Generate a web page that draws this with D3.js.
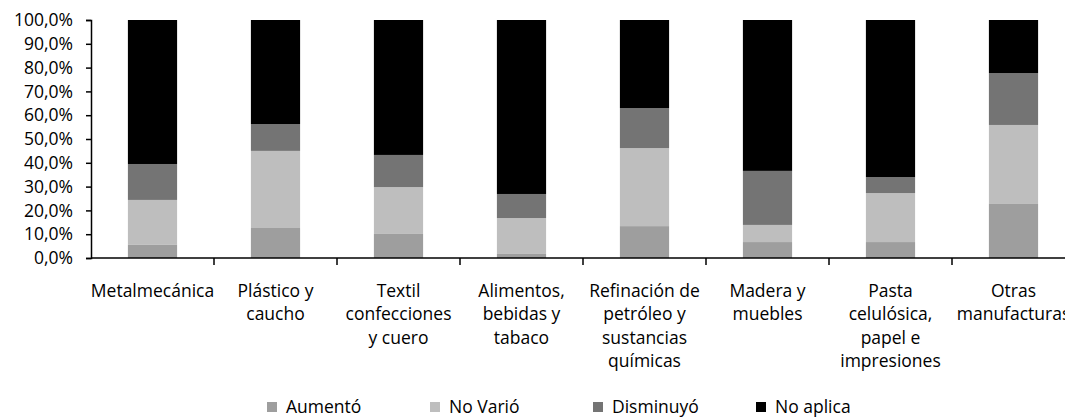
<!DOCTYPE html>
<html>
<head>
<meta charset="utf-8">
<script src="https://cdn.jsdelivr.net/npm/d3@7"></script>
<style>
  body { margin: 0; background: #fff; }
  svg { display: block; font-family: 'Open Sans', sans-serif; }
  .tick-label, .cat-label, .legend-label { fill: #000; font-size: 17.5px; }
</style>
</head>
<body>
<div id="chart"></div>
<script>
// categories (\n marks the line breaks of the axis labels)
const categories = [
  'Metalmecánica',
  'Plástico y\ncaucho',
  'Textil\nconfecciones\ny cuero',
  'Alimentos,\nbebidas y\ntabaco',
  'Refinación de\npetróleo y\nsustancias\nquímicas',
  'Madera y\nmuebles',
  'Pasta\ncelulósica,\npapel e\nimpresiones',
  'Otras\nmanufacturas'
]

const seriesNames = ['Aumentó', 'No Varió', 'Disminuyó', 'No aplica']
const seriesColors = ['#9e9e9e', '#bebebe', '#747474', '#000000']

// shares in %
const aumento = [5.5, 12.6, 10.1, 1.7, 13.4, 6.7, 6.7, 22.7]
const noVario = [18.9, 32.4, 19.7, 15.1, 32.8, 7.2, 20.6, 33.2]
const disminuyo = [15.1, 11.3, 13.5, 10.1, 16.8, 22.7, 6.7, 21.8]
const noAplica = [60.5, 43.7, 56.7, 73.1, 37.0, 63.4, 66.0, 22.3]

const yTicks = [0, 10, 20, 30, 40, 50, 60, 70, 80, 90, 100]

const rows = categories.map((c, i) => ({
  cat: c,
  'Aumentó': aumento[i],
  'No Varió': noVario[i],
  'Disminuyó': disminuyo[i],
  'No aplica': noAplica[i]
}))

// dimension stuff
const width = 1065
const height = 417
const marginLeft = 91
const marginTop = 20
const plotH = 238
const step = 123

const locale = d3.formatLocale({ decimal: ',', thousands: '.', grouping: [3], currency: ['', '€'] })
const fmt = locale.format('.1f')

const $svg = d3.select('#chart').append('svg')
  .attr('width', width)
  .attr('height', height)

const scaleX = d3.scaleBand()
  .domain(categories)
  .range([marginLeft, marginLeft + step * categories.length])
  .padding(0)

const scaleY = d3.scaleLinear()
  .domain([0, 100])
  .range([marginTop + plotH, marginTop])

const scaleC = d3.scaleOrdinal().domain(seriesNames).range(seriesColors)

const stacked = d3.stack().keys(seriesNames)(rows)
const barW = scaleX.bandwidth() * 0.4

// bars
const $vis = $svg.append('g').attr('class', 'g-vis')
$vis.selectAll('.layer')
  .data(stacked)
  .join('g')
  .attr('class', 'layer')
  .attr('fill', d => scaleC(d.key))
  .selectAll('rect')
  .data(d => d)
  .join('rect')
  .attr('x', d => scaleX(d.data.cat) + (scaleX.bandwidth() - barW) / 2)
  .attr('width', barW)
  .attr('y', d => scaleY(d[1]))
  .attr('height', d => scaleY(d[0]) - scaleY(d[1]))

// y axis
const $yAxis = $svg.append('g')
  .attr('transform', `translate(${marginLeft},0)`)
  .call(d3.axisLeft(scaleY).tickValues(yTicks).tickSize(5).tickPadding(13).tickFormat(d => fmt(d) + '%'))
$yAxis.select('.domain').attr('stroke', '#000').attr('stroke-width', 1.5)
$yAxis.selectAll('.tick line').attr('stroke', '#000').attr('stroke-width', 1.5)
$yAxis.selectAll('.tick text')
  .attr('class', 'tick-label')
$yAxis.attr('font-size', null).attr('font-family', null)

// x axis with ticks on category boundaries
const $xAxis = $svg.append('g')
  .attr('transform', `translate(0,${marginTop + plotH})`)
$xAxis.append('line')
  .attr('x1', marginLeft)
  .attr('x2', marginLeft + step * categories.length)
  .attr('stroke', '#000')
  .attr('stroke-width', 1.5)
$xAxis.selectAll('.xtick')
  .data(categories)
  .join('line')
  .attr('class', 'xtick')
  .attr('x1', d => scaleX(d) + scaleX.bandwidth())
  .attr('x2', d => scaleX(d) + scaleX.bandwidth())
  .attr('y1', 0)
  .attr('y2', 7)
  .attr('stroke', '#000')
  .attr('stroke-width', 1.5)

// category labels
const lineH = 23.3
$svg.append('g')
  .selectAll('text')
  .data(categories)
  .join('text')
  .attr('class', 'cat-label')
  .attr('text-anchor', 'middle')
  .attr('transform', d => `translate(${scaleX(d) + scaleX.bandwidth() / 2},297)`)
  .selectAll('tspan')
  .data(d => d.split('\n'))
  .join('tspan')
  .attr('x', 0)
  .attr('y', (d, i) => i * lineH)
  .text(d => d)

// legend
const legendX = d3.scalePoint().domain(seriesNames).range([267, 756])
const $legend = $svg.append('g').attr('class', 'legend')
const $item = $legend.selectAll('g')
  .data(seriesNames)
  .join('g')
  .attr('transform', d => `translate(${legendX(d)},402)`)
$item.append('rect')
  .attr('width', 10)
  .attr('height', 10)
  .attr('fill', d => scaleC(d))
$item.append('text')
  .attr('class', 'legend-label')
  .attr('x', 19)
  .attr('y', 11)
  .text(d => d)
</script>
</body>
</html>
